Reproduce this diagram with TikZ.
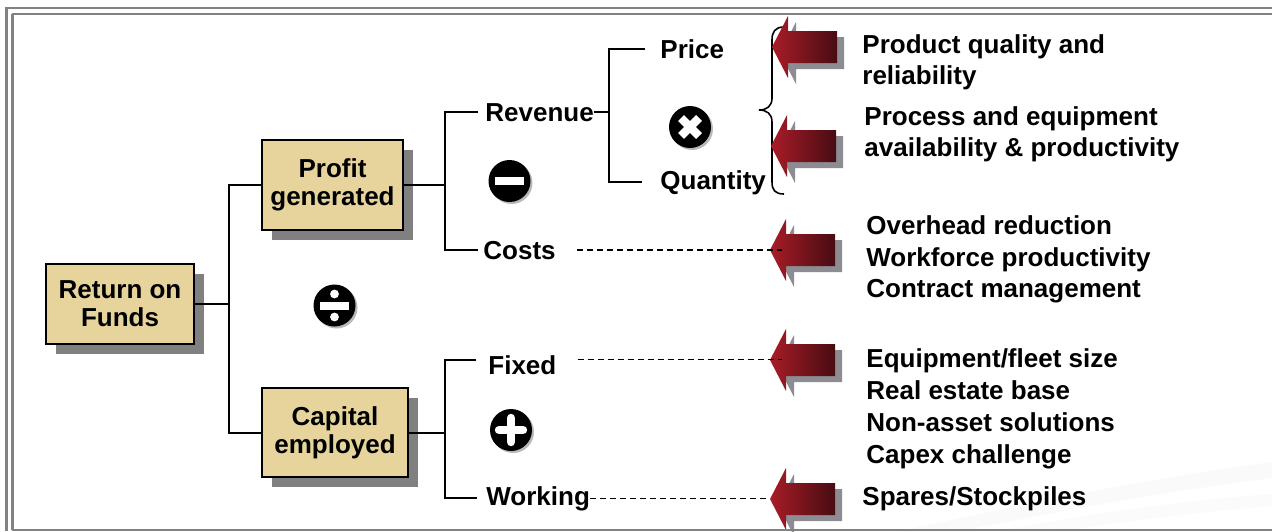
\documentclass[tikz,border=0pt]{standalone}
\usepackage{fontspec}
\setmainfont{Liberation Sans}
\usetikzlibrary{calc,shadows}
\definecolor{boxtan}{RGB}{231,212,156}
\definecolor{boxshade}{RGB}{128,128,128}
\definecolor{framegray}{RGB}{130,130,130}
\definecolor{arrowred}{RGB}{168,28,40}
\definecolor{arrowdark}{RGB}{72,12,18}
\definecolor{arrowshade}{RGB}{140,140,146}
\begin{document}
\begin{tikzpicture}[x=0.5pt,y=-0.5pt,
  lbl/.style={font=\fontsize{13}{14}\selectfont\bfseries, inner sep=0pt, anchor=base west},
  box/.style={draw=black, line width=1pt, fill=boxtan, align=center, inner sep=0pt,
    font=\fontsize{13}{14}\selectfont\bfseries,
    drop shadow={shadow xshift=5pt, shadow yshift=-5pt, fill=boxshade, opacity=1}},
  conn/.style={line width=1pt, black},
  dashline/.style={line width=0.75pt, black, dash pattern=on 3pt off 2pt},
  redarrow/.pic={
    \fill[arrowshade] (8,6) -- (24,-25) -- (24,-10) -- (72,-10) -- (72,22) -- (24,22) -- (24,37) -- cycle;
    \shade[left color=arrowred, right color=arrowdark]
      (0,0) -- (16,-31) -- (16,-16) -- (65,-16) -- (65,16) -- (16,16) -- (16,31) -- cycle;
  },
  opdisc/.pic={
    \fill[gray!55] (2,2) circle[radius=10.5pt];
    \fill[black] (0,0) circle[radius=10.5pt];
  }
]
\useasboundingbox (0,0) rectangle (1272,531);
\fill[white] (0,0) rectangle (1272,531);

% faint streaks in the lower right corner
\fill[gray!4] (900,531) .. controls (1020,505) and (1150,478) .. (1272,462)
  -- (1272,478) .. controls (1160,492) and (1040,515) .. (960,531) -- cycle;
\fill[gray!3] (1000,531) .. controls (1100,512) and (1190,500) .. (1272,494)
  -- (1272,506) .. controls (1200,512) and (1120,522) .. (1060,531) -- cycle;

% boxes
\node[box, minimum width=74pt, minimum height=40pt] (ret) at (120,304) {Return on\\Funds};
\node[box, minimum width=70.5pt, minimum height=45pt] (prof) at (332.5,185) {Profit\\generated};
\node[box, minimum width=73pt, minimum height=44.5pt] (cap) at (335,432.5) {Capital\\employed};

% branch labels
\node[lbl] (rev) at (485,121) {Revenue};
\node[lbl] (costs) at (483,259) {Costs};
\node[lbl] (price) at (660,58) {Price};
\node[lbl] (qty) at (660,189) {Quantity};
\node[lbl] (fixed) at (488,374) {Fixed};
\node[lbl] (work) at (486,505) {Working};

% junction columns
\coordinate (j1) at (229,0);
\coordinate (j2) at (445,0);
\coordinate (j3) at (609,0);

% tree connectors
\draw[conn] (ret.east) -- (ret.east -| j1);
\draw[conn] (prof.west) -| (j1 |- cap.west) -- (cap.west);
\draw[conn] (prof.east) -- (prof.east -| j2);
\draw[conn] ([xshift=-3.5pt]rev.west) -| (j2 |- costs.west) -- ([xshift=-2.5pt]costs.west);
\draw[conn] (rev.east) -- (rev.east -| j3);
\draw[conn] ([xshift=-7.5pt]price.west) -| (j3 |- qty.west) -- ([xshift=-9pt]qty.west);
\draw[conn] (cap.east) -- (cap.east -| j2);
\draw[conn] ($(fixed.west)+(-12,-5)$) -| (j2 |- work.west) -- ([xshift=-4.5pt]work.west);

% operator discs
\pic at (690,127) {opdisc};
\draw[white, line width=4.2pt] (681,118) -- (699,136) (681,136) -- (699,118);
\pic at (509.5,181) {opdisc};
\fill[white] (495,177) rectangle (524,185);
\pic at (334.5,305.5) {opdisc};
\fill[white] (320,301.5) rectangle (349,309.5);
\fill[white] (334.5,294) circle[radius=2.2pt] (334.5,317) circle[radius=2.2pt];
\pic at (511,430) {opdisc};
\draw[white, line width=4.2pt, line cap=round] (499,430) -- (523,430) (511,418) -- (511,442);

% brace grouping price and quantity
\draw[line width=0.8pt] (784,27) .. controls (775,27) and (772,32) .. (772,40) -- (772,98)
  .. controls (772,106) and (767,110) .. (759,110)
  .. controls (767,110) and (772,114) .. (772,122) -- (772,182)
  .. controls (772,190) and (775,194) .. (784,194);

% lever arrows
\coordinate (a1) at (772,47);
\coordinate (a2) at (771,146);
\coordinate (a3) at (770,250);
\coordinate (a4) at (770,360);
\coordinate (a5) at (770,499);
\foreach \t in {a1,a2,a3,a4,a5} \pic at (\t) {redarrow};

% dashed links to the levers
\draw[dashline] ([xshift=10.5pt]costs.east) -- ($(costs.east -| a3)+(12,0)$);
\draw[dashline] ($(fixed.east)+(21,-5)$) -- ($(fixed.east -| a4)+(12,-5)$);
\draw[dashline] (work.east) -- (work.east -| a5);

% lever texts
\node[lbl] (l1a) at (862,53) {Product quality and};
\node[lbl] (l1b) at (862,84) {reliability};
\node[lbl] (l2a) at (864,125) {Process and equipment};
\node[lbl] (l2b) at (864,156) {availability \& productivity};
\node[lbl] (l3a) at (866,234) {Overhead reduction};
\node[lbl] (l3b) at (866,266) {Workforce productivity};
\node[lbl] (l3c) at (866,297) {Contract management};
\node[lbl] (l4a) at (866,367) {Equipment/fleet size};
\node[lbl] (l4b) at (866,399) {Real estate base};
\node[lbl] (l4c) at (866,431) {Non-asset solutions};
\node[lbl] (l4d) at (866,463) {Capex challenge};
\node[lbl] (l5a) at (862,505) {Spares/Stockpiles};

% double frame
\begin{scope}[framegray, line width=1.25pt]
  \draw (5,8) -- (1272,8);
  \draw (12,14) -- (1272,14);
  \draw (6.5,8) -- (6.5,531);
  \draw (12.5,14) -- (12.5,530);
  \draw (12,530) -- (1272,530);
\end{scope}
\end{tikzpicture}
\end{document}
